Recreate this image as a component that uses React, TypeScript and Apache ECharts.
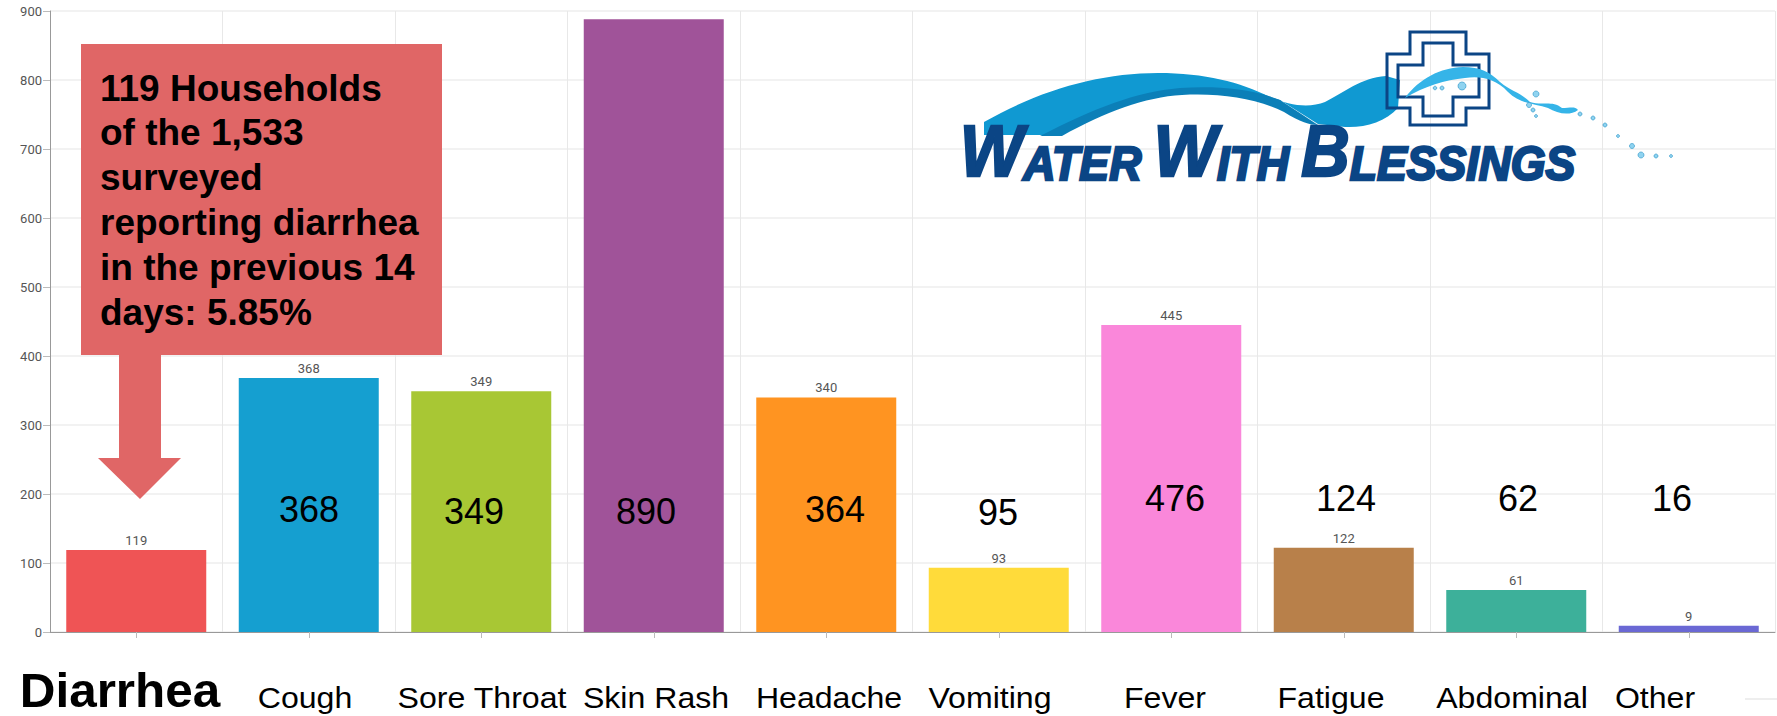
import React, { useEffect, useRef } from "react";
import * as echarts from "echarts";

const categories = ["Diarrhea", "Cough", "Sore Throat", "Skin Rash", "Headache", "Vomiting", "Fever", "Fatigue", "Abdominal", "Other"];
const values = [119, 368, 349, 888, 340, 93, 445, 122, 61, 9];
const overlayValues = ["368", "349", "890", "364", "95", "476", "124", "62", "16"];
const barColors = ["#EF5455", "#159FD0", "#A8C734", "#A05399", "#FF9421", "#FFDB3A", "#FA87DA", "#B8804A", "#3DB09A", "#6A68D4"];
const calloutLines = ["119 Households", "of the 1,533", "surveyed", "reporting diarrhea", "in the previous 14", "days: 5.85%"];

const overlayX = [309, 474, 646, 835, 998, 1175, 1346, 1518, 1672];
const overlayY = [509, 511, 511, 509, 512, 498, 498, 498, 498];
const labelX = [120, 305, 482, 656, 829, 990, 1165, 1331, 1512, 1655];

const SANS = '"Liberation Sans", Arial, sans-serif';

const ribbonTop = "M984 122 C1040 90 1100 73 1158 73 C1205 73 1240 82 1270 97 C1290 106 1310 108 1325 102 C1345 92 1360 78 1386 76 L1400 80 L1398 108 C1385 122 1365 128 1345 127 L1318 124 L1280 100 C1250 90 1215 88 1180 90 C1140 92 1100 110 1050 135 L984 135 Z";
const ribbonDark = "M1280 100 C1250 88 1215 86 1180 88 C1135 92 1095 108 1040 136 L1062 136 C1105 112 1145 97 1182 95 C1220 93 1255 98 1284 112 C1300 122 1310 125 1318 125 Z";
const splash = "M1405 98 C1420 78 1440 68 1463 67 C1480 67 1490 72 1500 82 C1512 92 1520 92 1530 102 C1542 106 1552 100 1562 108 C1570 108 1575 106 1578 110 C1570 116 1558 114 1548 108 C1535 104 1520 104 1508 92 C1495 78 1480 76 1465 78 C1445 80 1425 86 1405 98 Z";
const crossOuter = [[1410, 32], [1466, 32], [1466, 54], [1489, 54], [1489, 108], [1466, 108], [1466, 125], [1410, 125], [1410, 108], [1387, 108], [1387, 54], [1410, 54]];
const crossInner = [[1423, 43], [1453, 43], [1453, 65], [1479, 65], [1479, 97], [1453, 97], [1453, 116], [1423, 116], [1423, 97], [1398, 97], [1398, 65], [1423, 65]];
const drops = [[1536, 94, 3], [1529, 105, 2.5], [1533, 110, 2], [1536, 116, 1.5], [1580, 114, 2], [1593, 118, 2], [1605, 125, 2], [1618, 136, 1.5], [1632, 146, 2.5], [1641, 155, 3], [1656, 156, 2], [1671, 156, 1.5], [1435, 88, 1.8], [1442, 88, 2], [1462, 86, 4]];

echarts.graphic.registerShape("wwbRibbon", echarts.graphic.extendPath(ribbonTop, {}));
echarts.graphic.registerShape("wwbDark", echarts.graphic.extendPath(ribbonDark, {}));
echarts.graphic.registerShape("wwbSplash", echarts.graphic.extendPath(splash, {}));

export default function App() {
  const ref = useRef<HTMLDivElement>(null);
  useEffect(() => {
    const chart = echarts.init(ref.current!, undefined, { renderer: "svg" });
    const graphicEls: any[] = [];

    // logo (beneath the callout and labels)
    graphicEls.push({ type: "wwbRibbon", style: { fill: "#1099D2" } });
    graphicEls.push({ type: "wwbDark", style: { fill: "#0B7FB8" } });
    graphicEls.push({ type: "polygon", shape: { points: crossOuter }, style: { fill: "none", stroke: "#0B4585", lineWidth: 3 } });
    graphicEls.push({ type: "polygon", shape: { points: crossInner }, style: { fill: "none", stroke: "#0B4585", lineWidth: 3 } });
    graphicEls.push({ type: "wwbSplash", style: { fill: "#35B4E8" } });
    drops.forEach(([cx, cy, r]) => {
      graphicEls.push({ type: "circle", shape: { cx, cy, r }, style: { fill: "#8FD3F0", stroke: "#3A9CCB", lineWidth: 0.7 } });
    });
    graphicEls.push({
      type: "text", x: 960, y: 187, scaleX: 0.93,
      style: {
        text: "{b|W}{s|ATER} {b|W}{s|ITH} {b|B}{s|LESSINGS}",
        textAlign: "left", textVerticalAlign: "bottom", fill: "#0B4585",
        font: `italic bold 48px ${SANS}`,
        rich: {
          b: { font: `italic bold 72px ${SANS}`, fill: "#0B4585", stroke: "#0B4585", lineWidth: 2.5, verticalAlign: "bottom" },
          s: { font: `italic bold 48px ${SANS}`, fill: "#0B4585", stroke: "#0B4585", lineWidth: 2.5, verticalAlign: "bottom" },
        },
      },
    });

    // callout with arrow
    graphicEls.push({
      type: "polygon",
      shape: { points: [[119, 350], [161, 350], [161, 458], [181, 458], [140, 499], [98, 458], [119, 458]] },
      style: { fill: "#E06666" },
    });
    graphicEls.push({ type: "rect", shape: { x: 81, y: 44, width: 361, height: 311 }, style: { fill: "#E06666" } });
    calloutLines.forEach((line, i) => {
      graphicEls.push({
        type: "text", x: 100, y: 88 + i * 44.8,
        style: { text: line, fill: "#000", textAlign: "left", textVerticalAlign: "middle", font: `bold 37px ${SANS}` },
      });
    });

    // x labels pasted under the chart
    categories.forEach((name, i) => {
      const first = i === 0;
      graphicEls.push({
        type: "text", x: labelX[i], y: first ? 690 : 698, scaleX: first ? 1.03 : 1.07,
        style: {
          text: name, fill: "#000", textAlign: "center", textVerticalAlign: "middle",
          font: `${first ? "bold 48px" : "30px"} ${SANS}`,
        },
      });
    });
    // pasted totals
    overlayValues.forEach((v, i) => {
      graphicEls.push({
        type: "text", x: overlayX[i], y: overlayY[i],
        style: { text: v, fill: "#000", textAlign: "center", textVerticalAlign: "middle", font: `36px ${SANS}` },
      });
    });
    graphicEls.push({ type: "line", shape: { x1: 1745, y1: 699, x2: 1777, y2: 699 }, style: { stroke: "#DDD", lineWidth: 1 } });

    chart.setOption({
      animation: false,
      backgroundColor: "#fff",
      grid: { left: 50, right: 2, top: 11, bottom: 84, containLabel: false },
      xAxis: {
        type: "category",
        data: categories,
        axisLine: { show: true, lineStyle: { color: "#999", width: 1 } },
        axisTick: { show: true, alignWithLabel: true, length: 6, lineStyle: { color: "#bbb" } },
        axisLabel: { show: false },
        splitLine: { show: true, lineStyle: { color: "#E8E8E8", width: 1 } },
      },
      yAxis: {
        type: "value",
        min: 0,
        max: 900,
        interval: 100,
        axisLine: { show: true, lineStyle: { color: "#999", width: 1 } },
        axisTick: { show: true, length: 7, lineStyle: { color: "#bbb" } },
        axisLabel: { color: "#555", fontSize: 13, fontFamily: "Roboto", margin: 8 },
        splitLine: { show: true, lineStyle: { color: "#EEEEEE", width: 1.5 } },
      },
      series: [
        {
          type: "bar",
          barWidth: 140,
          data: values.map((value, i) => ({
            value,
            itemStyle: { color: barColors[i] },
            label: { show: i !== 3 },
          })),
          label: { show: true, position: "top", distance: 3, color: "#555", fontSize: 13, fontFamily: "Roboto" },
        },
      ],
      graphic: { elements: graphicEls.map((el) => ({ ...el, z: 100 })) },
    });
    return () => chart.dispose();
  }, []);
  return <div ref={ref} style={{ position: "absolute", left: 0, top: 0, width: 1777, height: 716 }} />;
}
